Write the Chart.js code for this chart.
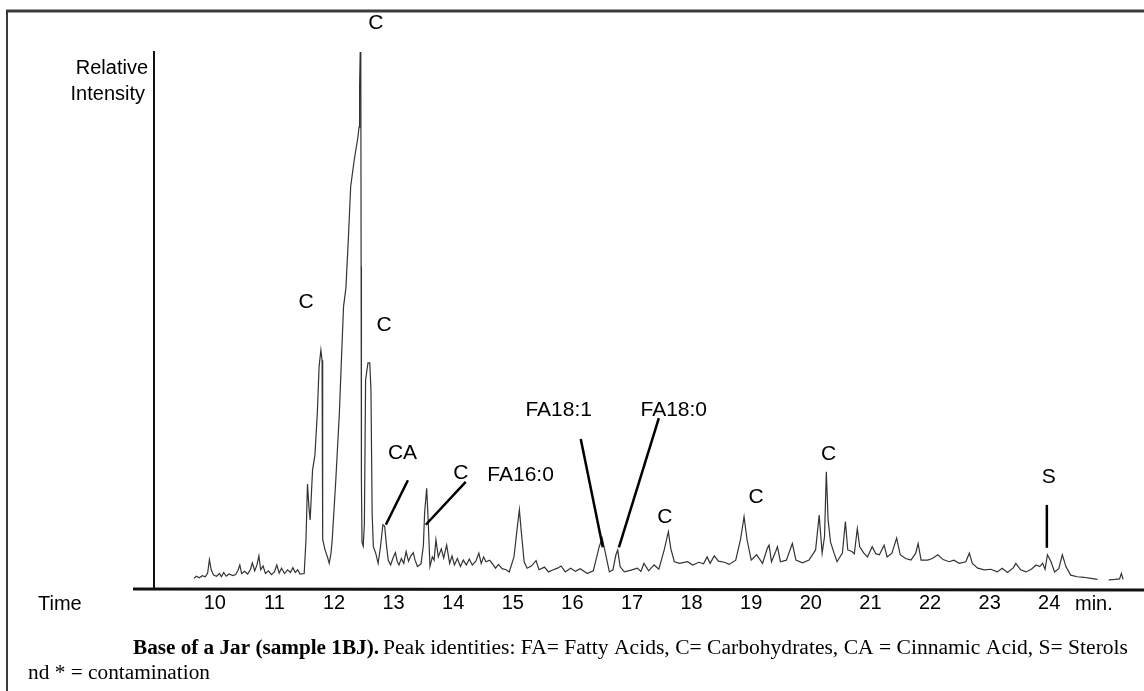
<!DOCTYPE html>
<html>
<head>
<meta charset="utf-8">
<script src="https://cdn.jsdelivr.net/npm/chart.js@4.4.1/dist/chart.umd.min.js"></script>
<style>
  html, body { margin: 0; padding: 0; background: #fff; }
  #wrap { width: 1144px; height: 691px; position: relative; }
</style>
</head>
<body>
<div id="wrap"><canvas id="chrom" width="1144" height="691"></canvas></div>
<script>
// retention time (min) and relative intensity
let times = [
  9.65, 9.69, 9.74, 9.79, 9.84, 9.88, 9.91, 9.94, 9.98, 10.03,
  10.08, 10.11, 10.15, 10.19, 10.24, 10.30, 10.35, 10.39, 10.42, 10.45,
  10.50, 10.55, 10.60, 10.63, 10.67, 10.71, 10.74, 10.77, 10.81, 10.85,
  10.90, 10.95, 11.00, 11.04, 11.08, 11.12, 11.17, 11.22, 11.27, 11.31,
  11.35, 11.39, 11.43, 11.50, 11.53, 11.555, 11.58, 11.60, 11.64, 11.68,
  11.72, 11.75, 11.78, 11.80, 11.81, 11.85, 11.89, 11.92, 11.95, 11.97,
  12.03, 12.09, 12.12, 12.16, 12.20, 12.24, 12.28, 12.34, 12.40, 12.42,
  12.43, 12.44, 12.45, 12.455, 12.46, 12.47, 12.49, 12.51, 12.53, 12.57,
  12.60, 12.62, 12.64, 12.66, 12.70, 12.74, 12.78, 12.82, 12.85, 12.88,
  12.91, 12.95, 12.99, 13.03, 13.06, 13.09, 13.13, 13.17, 13.21, 13.25,
  13.29, 13.33, 13.36, 13.40, 13.46, 13.50, 13.52, 13.555, 13.58, 13.61,
  13.65, 13.68, 13.71, 13.75, 13.80, 13.84, 13.89, 13.94, 13.98, 14.02,
  14.07, 14.12, 14.17, 14.22, 14.27, 14.32, 14.38, 14.43, 14.47, 14.51,
  14.55, 14.61, 14.66, 14.71, 14.76, 14.82, 14.89, 14.94, 15.02, 15.07,
  15.11, 15.14, 15.19, 15.24, 15.31, 15.39, 15.44, 15.53, 15.60, 15.66,
  15.75, 15.81, 15.88, 15.97, 16.05, 16.13, 16.25, 16.35, 16.45, 16.50,
  16.56, 16.62, 16.68, 16.73, 16.76, 16.80, 16.87, 16.97, 17.09, 17.15,
  17.20, 17.28, 17.37, 17.45, 17.54, 17.61, 17.65, 17.71, 17.80, 17.93,
  18.02, 18.12, 18.20, 18.26, 18.31, 18.38, 18.45, 18.55, 18.63, 18.74,
  18.82, 18.88, 18.93, 19.00, 19.09, 19.19, 19.27, 19.30, 19.34, 19.41,
  19.44, 19.49, 19.59, 19.69, 19.75, 19.86, 19.97, 20.08, 20.14, 20.19,
  20.23, 20.26, 20.29, 20.33, 20.39, 20.44, 20.53, 20.58, 20.62, 20.69,
  20.73, 20.78, 20.82, 20.89, 20.95, 21.03, 21.09, 21.15, 21.23, 21.28,
  21.36, 21.44, 21.50, 21.59, 21.68, 21.76, 21.80, 21.85, 21.96, 22.04,
  22.13, 22.22, 22.32, 22.40, 22.49, 22.60, 22.66, 22.71, 22.80, 22.91,
  23.02, 23.13, 23.21, 23.30, 23.40, 23.44, 23.52, 23.61, 23.70, 23.78,
  23.84, 23.89, 23.93, 23.97, 24.03, 24.09, 24.16, 24.22, 24.28, 24.36,
  24.47, 24.58, 24.70, 24.81, 24.90, 25.00, 25.10, 25.18, 25.21, 25.24
];
let intensity = [
  1.8, 2.2, 1.9, 2.3, 2.1, 2.8, 5.3, 3.4, 2.4, 2.2,
  2.7, 2.1, 2.9, 2.2, 2.6, 2.3, 2.5, 3.3, 4.3, 2.7,
  3.1, 2.6, 3.5, 4.7, 3.2, 4.4, 6.0, 3.4, 4.1, 2.7,
  3.2, 2.5, 3.0, 4.3, 2.8, 3.7, 2.7, 3.4, 2.9, 3.8,
  2.9, 3.4, 2.6, 2.7, 9.0, 19.4, 15.0, 12.7, 22.0, 24.8,
  32.6, 41.3, 44.4, 42.5, 9.0, 7.1, 5.8, 4.6, 6.5, 9.0,
  20.1, 32.6, 41.3, 52.5, 56.0, 65.0, 74.9, 79.9, 84.0, 86.0,
  94.0, 100, 97, 60, 20, 8.5, 7.8, 12.0, 38.8, 42.0,
  42.0, 37.0, 14.0, 7.7, 6.5, 4.6, 7.7, 11.8, 11.5, 8.0,
  5.2, 4.3, 5.6, 6.6, 5.0, 4.3, 5.5, 4.6, 6.8, 5.0,
  6.0, 6.6, 5.2, 4.0, 4.5, 8.0, 14.0, 18.6, 12.7, 4.0,
  5.8, 5.2, 9.0, 5.8, 7.3, 5.6, 8.0, 4.6, 6.0, 4.3,
  5.5, 4.0, 5.2, 4.3, 5.4, 4.3, 5.0, 6.5, 4.6, 5.8,
  4.9, 5.2, 4.5, 3.7, 4.4, 3.6, 3.4, 3.0, 5.8, 10.8,
  14.6, 10.8, 4.9, 3.7, 4.1, 5.1, 3.4, 3.9, 3.0, 3.3,
  3.7, 4.1, 3.0, 3.7, 3.1, 3.6, 2.7, 3.2, 7.7, 9.3,
  6.2, 3.0, 3.4, 6.2, 7.1, 4.0, 3.0, 3.3, 3.7, 3.1,
  4.6, 3.2, 4.3, 3.5, 7.1, 10.5, 7.4, 4.9, 4.6, 4.9,
  4.3, 4.8, 4.5, 5.8, 4.6, 6.0, 5.0, 4.8, 4.4, 5.2,
  9.0, 13.3, 9.0, 5.2, 6.2, 4.6, 7.4, 8.0, 4.9, 6.8,
  7.7, 4.9, 5.2, 8.3, 5.2, 4.7, 5.2, 7.1, 13.6, 6.5,
  9.6, 21.7, 12.7, 8.6, 6.5, 4.9, 6.5, 12.4, 7.1, 6.8,
  6.4, 11.1, 7.7, 6.5, 5.8, 7.7, 6.4, 6.2, 8.0, 5.8,
  6.5, 9.3, 6.2, 5.5, 5.2, 6.5, 8.3, 5.2, 5.2, 5.5,
  6.2, 5.3, 4.9, 5.2, 4.6, 4.9, 6.5, 4.6, 3.7, 3.4,
  3.5, 3.0, 3.7, 2.9, 3.8, 4.6, 3.4, 3.0, 3.5, 4.3,
  4.0, 4.6, 3.5, 6.2, 4.9, 3.0, 3.6, 6.2, 4.0, 2.4,
  2.1, 2.0, 1.8, 1.6, null, 1.5, 1.6, 1.7, 2.7, 1.6
];

// x axis tick values
let tickValues = [10, 11, 12, 13, 14, 15, 16, 17, 18, 19, 20, 21, 22, 23, 24];

// peak identities: text, time, intensity where the label sits
let peakText = ['C', 'C', 'C', 'CA', 'C', 'FA16:0', 'FA18:1', 'FA18:0', 'C', 'C', 'C', 'S'];
let peakTime = [12.70, 11.53, 12.84, 13.15, 14.13, 15.13, 15.77, 17.70, 17.55, 19.08, 20.30, 23.99];
let peakLevel = [105.4, 53.4, 49.1, 25.2, 21.5, 21.1, 33.2, 33.2, 13.2, 17.0, 25.0, 20.7];

// pointer lines from label to peak: [t1, i1, t2, i2]
let pointers = [
  [13.24, 20.1, 12.87, 11.8],
  [14.21, 19.8, 13.54, 11.8],
  [16.14, 27.8, 16.51, 7.6],
  [17.45, 31.7, 16.78, 7.6],
  [23.96, 15.5, 23.96, 7.5]
];

const sans = 'Arial, "Liberation Sans", sans-serif';
const serif = '"Times New Roman", "Liberation Serif", serif';

// write text stretched or squeezed to a given width
function fitText(ctx, text, x, y, width) {
  let w = ctx.measureText(text).width;
  ctx.save();
  ctx.translate(x, y);
  ctx.scale(width / w, 1);
  ctx.fillText(text, 0, 0);
  ctx.restore();
}

// page decoration: frame, axis words, labels and the caption
const decor = {
  id: 'decor',
  beforeDraw(chart) {
    const ctx = chart.ctx;
    ctx.save();
    ctx.fillStyle = '#fff';
    ctx.fillRect(0, 0, chart.width, chart.height);
    ctx.strokeStyle = '#3a3a3a';
    ctx.lineWidth = 3;
    ctx.beginPath();
    ctx.moveTo(6, 11);
    ctx.lineTo(chart.width, 11);
    ctx.stroke();
    ctx.lineWidth = 2;
    ctx.beginPath();
    ctx.moveTo(7, 11);
    ctx.lineTo(7, chart.height);
    ctx.stroke();
    ctx.restore();
  },
  afterDraw(chart) {
    const ctx = chart.ctx;
    const area = chart.chartArea;
    const x = chart.scales.x;
    const y = chart.scales.y;
    ctx.save();

    // time axis line, runs a bit past the intensity axis
    ctx.strokeStyle = '#111';
    ctx.lineWidth = 3;
    ctx.beginPath();
    ctx.moveTo(area.left - 21, area.bottom + 1);
    ctx.lineTo(area.right, area.bottom + 2);
    ctx.stroke();

    ctx.fillStyle = '#000';
    ctx.font = '20px ' + sans;
    ctx.textBaseline = 'alphabetic';
    ctx.textAlign = 'right';
    ctx.fillText('Relative', area.left - 6, 74);
    ctx.fillText('Intensity', area.left - 9, 100);
    ctx.textAlign = 'left';
    ctx.fillText('Time', 38, 610);
    ctx.fillText('min.', 1075, 610);

    // peak labels
    ctx.font = '21px ' + sans;
    ctx.textAlign = 'center';
    ctx.textBaseline = 'middle';
    for (let i = 0; i < peakText.length; i++) {
      ctx.fillText(peakText[i], x.getPixelForValue(peakTime[i]), y.getPixelForValue(peakLevel[i]));
    }

    ctx.strokeStyle = '#000';
    ctx.lineWidth = 2.5;
    for (let p of pointers) {
      ctx.beginPath();
      ctx.moveTo(x.getPixelForValue(p[0]), y.getPixelForValue(p[1]));
      ctx.lineTo(x.getPixelForValue(p[2]), y.getPixelForValue(p[3]));
      ctx.stroke();
    }

    // caption
    ctx.textAlign = 'left';
    ctx.textBaseline = 'alphabetic';
    ctx.font = 'bold 20px ' + serif;
    fitText(ctx, 'Base of a Jar (sample 1BJ).', 133, 654, 246);
    ctx.font = '20px ' + serif;
    fitText(ctx, 'Peak identities: FA= Fatty Acids, C= Carbohydrates, CA = Cinnamic Acid, S= Sterols', 383, 654, 745);
    fitText(ctx, 'nd * = contamination', 28, 679, 182);
    ctx.restore();
  }
};

Chart.defaults.font.family = sans;
Chart.defaults.color = '#000';

const points = times.map((t, i) => ({ x: t, y: intensity[i] }));

new Chart(document.getElementById('chrom'), {
  type: 'line',
  data: {
    datasets: [{
      data: points,
      borderColor: '#333',
      borderWidth: 1.2,
      pointRadius: 0,
      tension: 0,
      spanGaps: false
    }]
  },
  options: {
    responsive: false,
    animation: false,
    layout: { padding: { top: 52, right: 0, left: 0, bottom: 0 } },
    plugins: { legend: { display: false }, tooltip: { enabled: false } },
    scales: {
      x: {
        type: 'linear',
        min: 8.98,
        max: 25.59,
        grid: { display: false, drawTicks: false },
        border: { display: false },
        afterBuildTicks: (scale) => { scale.ticks = tickValues.map(v => ({ value: v })); },
        afterFit: (scale) => { scale.height = 103; },
        ticks: { font: { size: 20 }, color: '#000', padding: 3, maxRotation: 0, autoSkip: false }
      },
      y: {
        min: 0,
        max: 100,
        grid: { display: false, drawTicks: false },
        border: { display: true, color: '#111', width: 2 },
        ticks: { display: false },
        afterFit: (scale) => { scale.width = 154; }
      }
    }
  },
  plugins: [decor]
});
</script>
</body>
</html>
